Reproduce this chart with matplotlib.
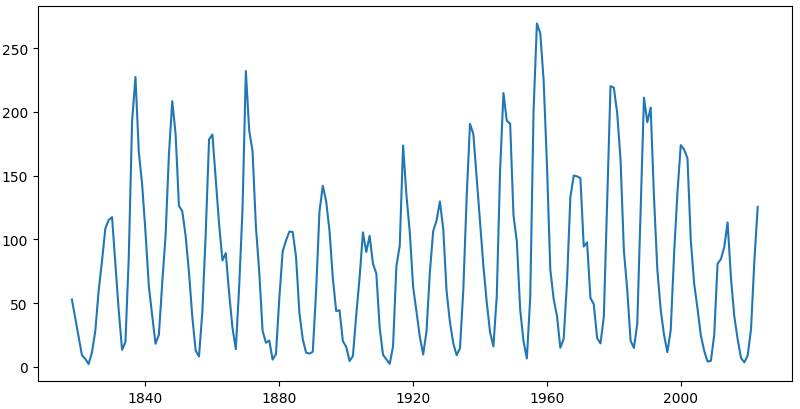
import matplotlib
matplotlib.use("Agg")
import matplotlib.pyplot as plt
import pandas as pd

years = list(range(1818, 2024))
sunspots = [
    52.9, 38.5, 24.2, 9.2, 6.3, 2.2, 11.4, 28.2, 59.9, 83.0,
    108.5, 115.2, 117.4, 80.8, 44.3, 13.4, 19.5, 85.8, 192.7, 227.3,
    168.7, 143.0, 105.5, 63.3, 40.3, 18.1, 25.1, 65.8, 102.7, 166.3,
    208.3, 182.5, 126.3, 122.0, 102.7, 74.1, 39.0, 12.7, 8.2, 43.4,
    104.4, 178.3, 182.2, 146.6, 112.1, 83.5, 89.2, 57.8, 30.7, 13.9,
    62.8, 123.6, 232.0, 185.3, 169.2, 110.1, 74.5, 28.3, 18.9, 20.7,
    5.7, 10.0, 53.7, 90.5, 99.0, 106.1, 105.8, 86.3, 42.4, 21.8,
    11.2, 10.4, 11.8, 59.5, 121.7, 142.0, 130.0, 106.6, 69.4, 43.8,
    44.4, 20.2, 15.7, 4.6, 8.5, 40.8, 70.1, 105.5, 90.1, 102.8,
    80.9, 73.2, 30.9, 9.5, 6.0, 2.4, 16.1, 79.0, 95.0, 173.6,
    134.6, 105.7, 62.7, 43.5, 23.7, 9.7, 27.9, 74.0, 106.5, 114.7,
    129.7, 108.2, 59.4, 35.1, 18.6, 9.2, 14.6, 60.2, 132.8, 190.6,
    182.6, 148.0, 113.0, 79.2, 50.8, 27.1, 16.1, 55.3, 154.3, 214.7,
    193.0, 190.7, 118.9, 98.3, 45.0, 20.1, 6.6, 54.2, 200.7, 269.3,
    261.7, 225.1, 159.0, 76.4, 53.4, 39.9, 15.0, 22.0, 66.8, 132.9,
    150.0, 149.4, 148.0, 94.4, 97.6, 54.1, 49.2, 22.5, 18.4, 39.3,
    131.0, 220.1, 218.9, 198.9, 162.4, 91.0, 60.5, 20.6, 14.8, 33.9,
    123.0, 211.1, 191.8, 203.3, 133.0, 76.1, 44.9, 25.1, 11.6, 28.9,
    88.3, 136.3, 173.9, 170.4, 163.6, 99.3, 65.3, 45.8, 24.7, 12.6,
    4.2, 4.8, 24.9, 80.8, 84.5, 94.0, 113.3, 69.8, 39.8, 21.7,
    7.0, 3.6, 8.8, 29.6, 83.2, 125.5,
]

dates = pd.to_datetime([f"{y}-01-01" for y in years]).to_pydatetime()

fig = plt.figure(figsize=(8, 4.1), dpi=100)
ax = fig.add_axes([0.047, 0.068, 0.943, 0.914])
ax.plot(dates, sunspots, color="#1f77b4", linewidth=1.5)
fig.savefig("out.png", dpi=100)
